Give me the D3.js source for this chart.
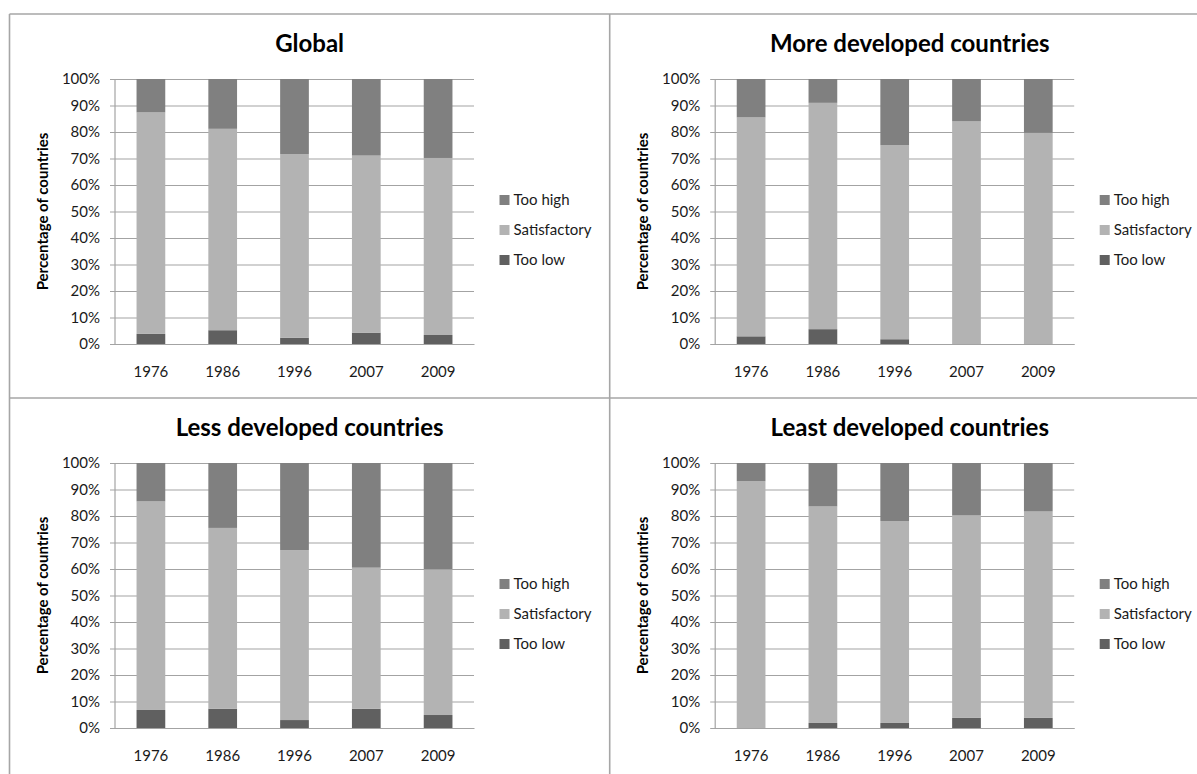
<!DOCTYPE html>
<html>
<head>
<meta charset="utf-8">
<script src="https://cdn.jsdelivr.net/npm/d3@7"></script>
<style>
  body { margin: 0; background: #fff; }
  svg { display: block; font-family: Lato, "Open Sans", sans-serif; }
</style>
</head>
<body>
<svg id="chart" width="1197" height="774"></svg>
<script>
// categories and series
const years = ["1976", "1986", "1996", "2007", "2009"];
const seriesNames = ["Too low", "Satisfactory", "Too high"];
const legendOrder = ["Too high", "Satisfactory", "Too low"];
const yTicks = [0, 10, 20, 30, 40, 50, 60, 70, 80, 90, 100];
const panelTitles = ["Global", "More developed countries", "Less developed countries", "Least developed countries"];

// values, percent of countries
const globalTooLow = [3.8, 5.2, 2.4, 4.3, 3.4];
const globalSatisfactory = [83.6, 76.0, 69.3, 66.8, 66.8];
const globalTooHigh = [12.6, 18.8, 28.3, 28.9, 29.8];

const moreTooLow = [2.9, 5.6, 1.8, 0, 0];
const moreSatisfactory = [82.6, 85.4, 73.2, 84.0, 79.7];
const moreTooHigh = [14.5, 9.0, 25.0, 16.0, 20.3];

const lessTooLow = [6.8, 7.3, 3.0, 7.3, 4.9];
const lessSatisfactory = [78.7, 68.2, 64.1, 53.2, 55.0];
const lessTooHigh = [14.5, 24.5, 32.9, 39.5, 40.1];

const leastTooLow = [0, 1.9, 1.9, 3.8, 3.8];
const leastSatisfactory = [93.1, 81.7, 76.2, 76.4, 77.9];
const leastTooHigh = [6.9, 16.4, 21.9, 19.8, 18.3];

const colors = { "Too high": "#808080", "Satisfactory": "#b3b3b3", "Too low": "#606060" };

const panelData = [
  [globalTooLow, globalSatisfactory, globalTooHigh],
  [moreTooLow, moreSatisfactory, moreTooHigh],
  [lessTooLow, lessSatisfactory, lessTooHigh],
  [leastTooLow, leastSatisfactory, leastTooHigh]
];

const svg = d3.select("#chart");
const W = 600.2, H = 384;
const origins = [[9.5, 14], [609.7, 14], [9.5, 398], [609.7, 398]];

// panel frames
const frame = svg.append("g").attr("stroke", "#a6a6a6").attr("stroke-width", 1.6);
frame.append("line").attr("x1", 9.5).attr("x2", 1197).attr("y1", 14).attr("y2", 14);
frame.append("line").attr("x1", 9.5).attr("x2", 1197).attr("y1", 398).attr("y2", 398);
frame.append("line").attr("x1", 9.5).attr("x2", 9.5).attr("y1", 14).attr("y2", 774);
frame.append("line").attr("x1", 609.7).attr("x2", 609.7).attr("y1", 14).attr("y2", 774);

panelData.forEach((cols, i) => {
  const [ox, oy] = origins[i];
  const g = svg.append("g").attr("transform", `translate(${ox},${oy})`);

  const rows = years.map((yr, j) => {
    const r = { year: yr };
    seriesNames.forEach((s, k) => r[s] = cols[k][j]);
    return r;
  });
  const stacked = d3.stack().keys(seriesNames)(rows);

  const x = d3.scaleBand().domain(years).range([105.5, 464.5]).paddingInner(0.6).paddingOuter(0.3);
  const y = d3.scaleLinear().domain([0, 100]).range([330, 65]);

  // gridlines + y axis
  const yAxis = d3.axisLeft(y).tickValues(yTicks).tickFormat(d => d + "%")
    .tickSize(-(464.5 - 100.5)).tickPadding(8);
  const ya = g.append("g").attr("transform", "translate(100.5,0)").call(yAxis);
  ya.select(".domain").remove();
  ya.selectAll(".tick line").attr("stroke", "#a3a3a3").attr("stroke-width", 1.2);
  ya.selectAll(".tick text").attr("font-size", 15).attr("fill", "#1a1a1a").attr("x", -10)
    .attr("font-family", "Lato, sans-serif");
  g.append("line").attr("x1", 105.5).attr("x2", 105.5).attr("y1", 65).attr("y2", 330)
    .attr("stroke", "#a3a3a3").attr("stroke-width", 1.2);

  // bars
  g.append("g").selectAll("g").data(stacked).join("g")
    .attr("fill", d => colors[d.key])
    .selectAll("rect").data(d => d).join("rect")
    .attr("x", d => x(d.data.year))
    .attr("width", x.bandwidth())
    .attr("y", d => y(d[1]))
    .attr("height", d => y(d[0]) - y(d[1]));

  // x axis labels
  const xAxis = d3.axisBottom(x).tickSize(0).tickPadding(22);
  const xa = g.append("g").attr("transform", "translate(0,330)").call(xAxis);
  xa.select(".domain").attr("stroke", "#a3a3a3").attr("stroke-width", 1.2);
  xa.selectAll(".tick text").attr("font-size", 15).attr("fill", "#1a1a1a")
    .attr("font-family", "Lato, sans-serif");

  // title
  g.append("text").attr("x", W / 2).attr("y", 38).attr("text-anchor", "middle")
    .attr("font-size", 24).attr("font-weight", "bold").attr("fill", "#000")
    .text(panelTitles[i]);

  // y axis title
  g.append("text").attr("transform", `translate(38,${(65 + 330) / 2}) rotate(-90)`)
    .attr("text-anchor", "middle").attr("font-size", 15).attr("font-weight", "bold")
    .attr("fill", "#000").text("Percentage of countries");

  // legend
  const lg = g.append("g").attr("transform", "translate(490,0)");
  legendOrder.forEach((s, k) => {
    const cy = 186 + k * 30;
    lg.append("rect").attr("x", 0).attr("y", cy - 5).attr("width", 10).attr("height", 10).attr("fill", colors[s]);
    lg.append("text").attr("x", 14).attr("y", cy).attr("dy", "0.35em")
      .attr("font-size", 15).attr("fill", "#1a1a1a").text(s);
  });
});
</script>
</body>
</html>
